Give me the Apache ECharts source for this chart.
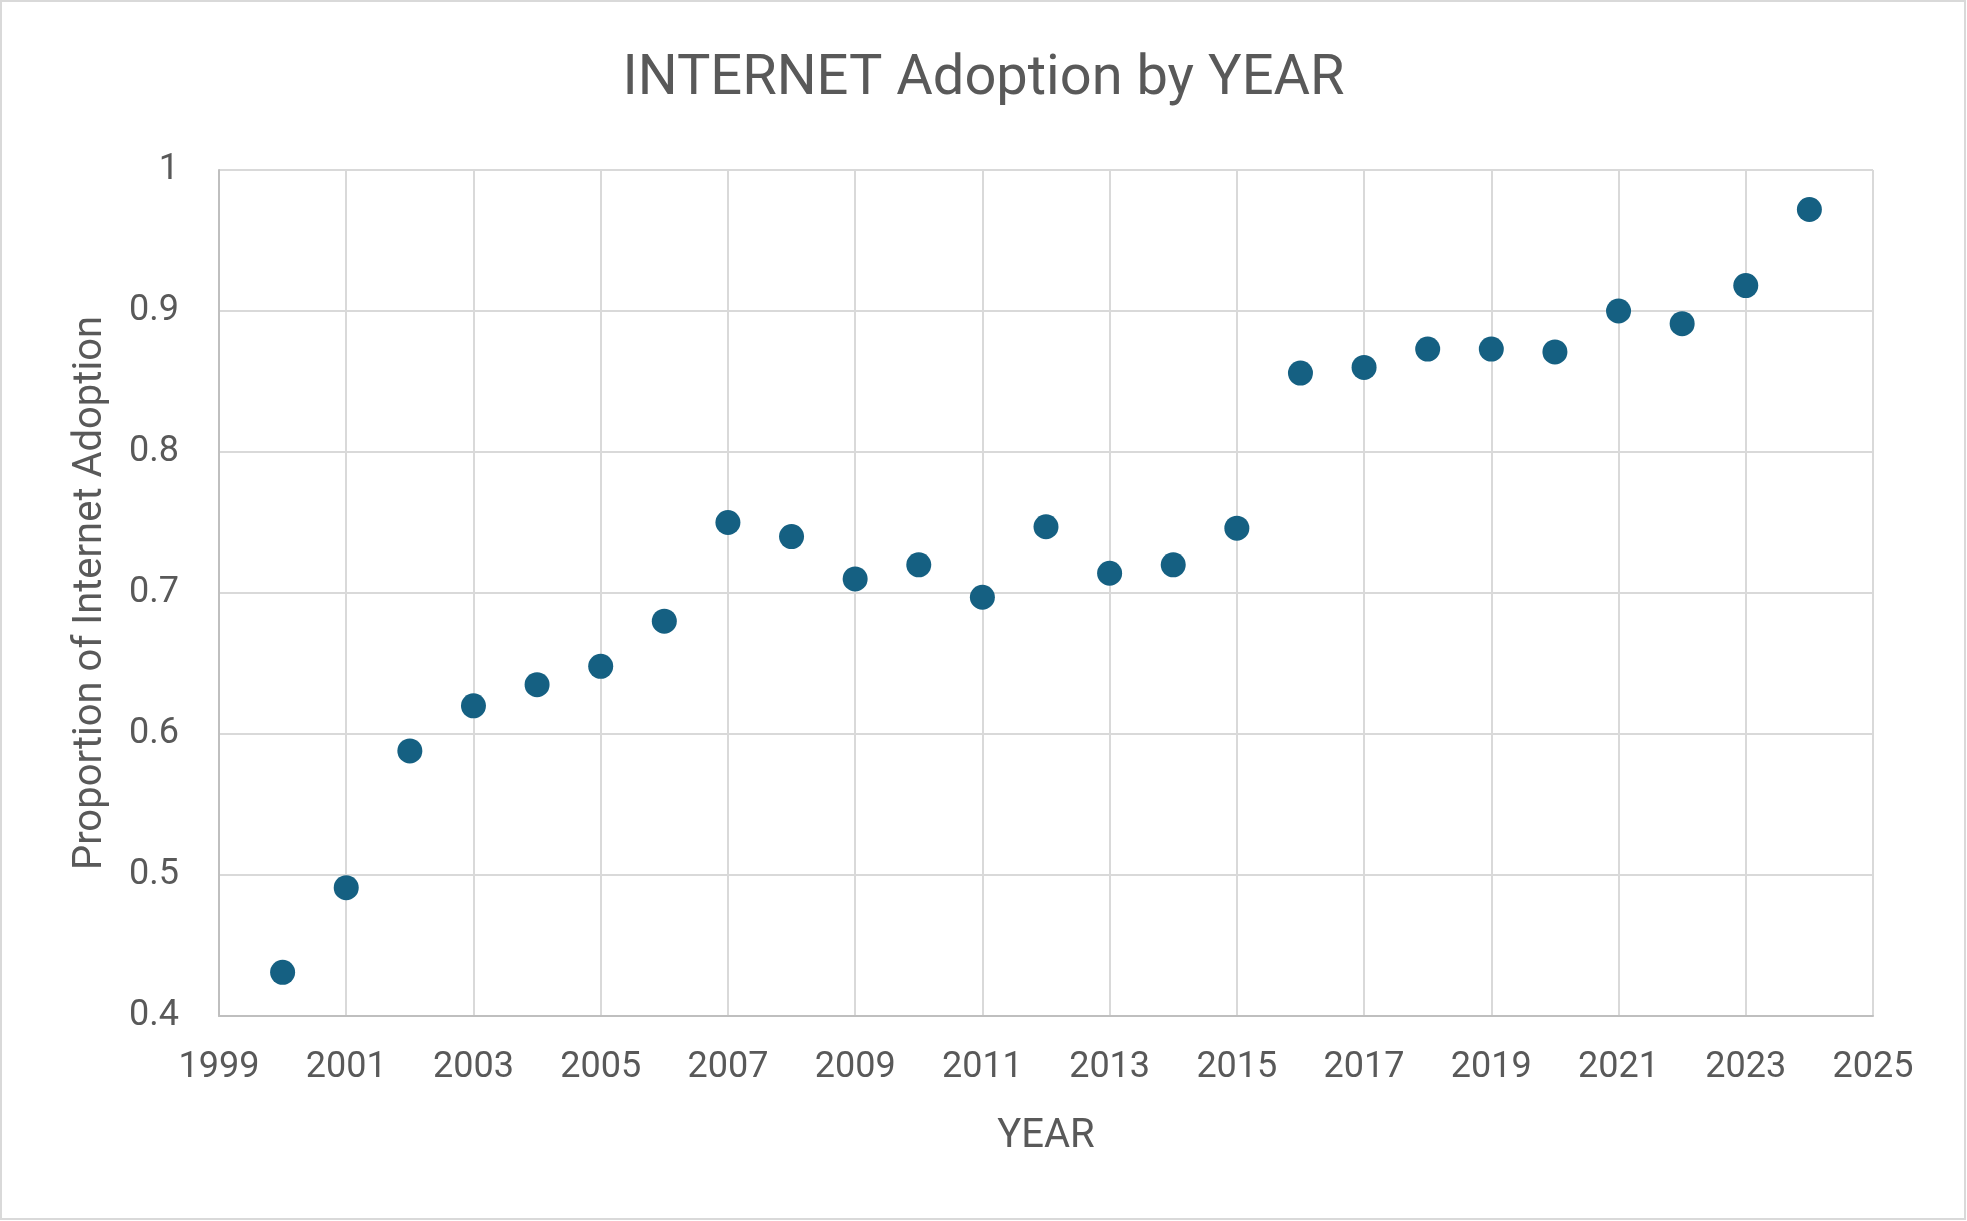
<!DOCTYPE html>
<html lang="en">
<head>
  <meta charset="UTF-8">
  <title>INTERNET Adoption by YEAR</title>
  <script src="https://cdn.jsdelivr.net/npm/echarts@6.0.0/dist/echarts.min.js"></script>
  <style>
    html, body { margin: 0; padding: 0; background: #fff; }
    #chart { width: 1967px; height: 1221px; }
  </style>
</head>
<body>
  <div id="chart"></div>
  <script>
    // values
    const years = [2000, 2001, 2002, 2003, 2004, 2005, 2006, 2007, 2008, 2009, 2010, 2011, 2012,
                   2013, 2014, 2015, 2016, 2017, 2018, 2019, 2020, 2021, 2022, 2023, 2024];
    const adoption = [0.431, 0.491, 0.588, 0.620, 0.635, 0.648, 0.680, 0.750, 0.740, 0.710, 0.720, 0.697, 0.747,
                      0.714, 0.720, 0.746, 0.856, 0.860, 0.873, 0.873, 0.871, 0.900, 0.891, 0.918, 0.972];

    const textColor = '#595959';
    const font = 'Roboto, "Liberation Sans", sans-serif';

    const points = years.map((y, i) => [y, adoption[i]]);

    const chart = echarts.init(document.getElementById('chart'));
    chart.setOption({
      animation: false,
      textStyle: { fontFamily: font },
      title: {
        text: 'INTERNET Adoption by YEAR',
        left: 'center',
        top: 47,
        textStyle: { color: textColor, fontSize: 56, fontWeight: 'normal', fontFamily: font }
      },
      graphic: [{
        type: 'rect',
        shape: { x: 1, y: 1, width: 1964, height: 1218 },
        style: { fill: 'none', stroke: '#d9d9d9', lineWidth: 2 },
        silent: true
      }],
      grid: { left: 219, right: 94, top: 170, bottom: 205 },
      xAxis: {
        type: 'value',
        min: 1999,
        max: 2025,
        interval: 2,
        name: 'YEAR',
        nameLocation: 'middle',
        nameGap: 101,
        nameTextStyle: { color: textColor, fontSize: 40, fontFamily: font },
        axisLine: { show: true, lineStyle: { color: '#bfbfbf', width: 2 } },
        axisTick: { show: false },
        axisLabel: {
          color: textColor, fontSize: 36, margin: 34, fontFamily: font,
          formatter: v => String(v)
        },
        splitLine: { show: true, lineStyle: { color: '#d9d9d9', width: 2 } }
      },
      yAxis: {
        type: 'value',
        min: 0.4,
        max: 1,
        interval: 0.1,
        name: 'Proportion of Internet Adoption',
        nameLocation: 'middle',
        nameGap: 108,
        nameTextStyle: { color: textColor, fontSize: 40, fontFamily: font },
        axisLine: { show: true, lineStyle: { color: '#bfbfbf', width: 2 } },
        axisTick: { show: false },
        axisLabel: {
          color: textColor, fontSize: 36, margin: 40, fontFamily: font,
          formatter: v => String(+v.toFixed(1))
        },
        splitLine: { show: true, lineStyle: { color: '#d9d9d9', width: 2 } }
      },
      series: [{
        type: 'scatter',
        data: points,
        symbol: 'circle',
        symbolSize: 25,
        itemStyle: { color: '#156082', opacity: 1 }
      }]
    });
  </script>
</body>
</html>
